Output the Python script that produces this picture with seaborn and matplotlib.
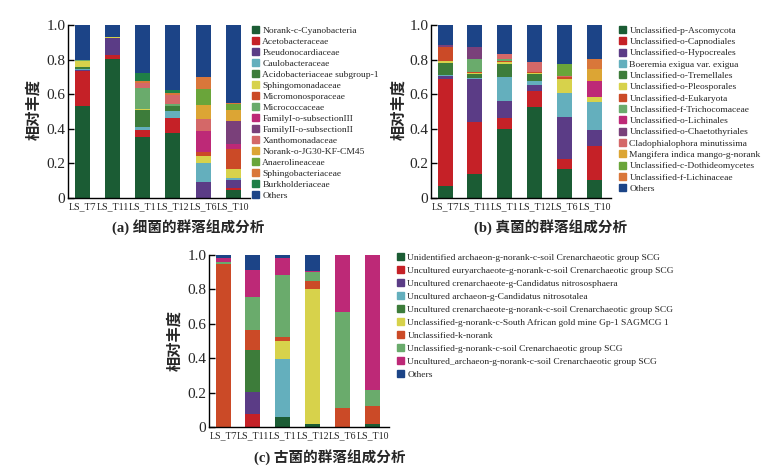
import numpy as np
import pandas as pd
import matplotlib
matplotlib.use("Agg")
import matplotlib.pyplot as plt
import matplotlib.patches as mpatches
import seaborn as sns

sns.set_style("ticks")
plt.rcParams['font.family'] = ['Liberation Serif', 'Noto Sans CJK SC']

samples = ["LS_T7", "LS_T11", "LS_T1", "LS_T12", "LS_T6", "LS_T10"]

# (a) bacteria
bac_names = ["Norank-c-Cyanobacteria", "Acetobacteraceae", "Pseudonocardiaceae",
             "Caulobacteraceae", "Acidobacteriaceae subgroup-1", "Sphingomonadaceae",
             "Micromonosporaceae", "Micrococcaceae", "FamilyI-o-subsectionIII",
             "FamilyII-o-subsectionII", "Xanthomonadaceae", "Norank-o-JG30-KF-CM45",
             "Anaerolineaceae", "Sphingobacteriaceae", "Burkholderiaceae", "Others"]
bac_vals = [
    [0.534, 0.803, 0.351, 0.374, 0.000, 0.046],
    [0.200, 0.023, 0.042, 0.090, 0.000, 0.013],
    [0.004, 0.100, 0.000, 0.000, 0.091, 0.046],
    [0.008, 0.000, 0.017, 0.037, 0.114, 0.013],
    [0.010, 0.000, 0.096, 0.031, 0.000, 0.000],
    [0.038, 0.006, 0.008, 0.000, 0.035, 0.050],
    [0.000, 0.000, 0.000, 0.000, 0.025, 0.118],
    [0.005, 0.000, 0.121, 0.013, 0.000, 0.000],
    [0.000, 0.000, 0.000, 0.000, 0.123, 0.029],
    [0.000, 0.000, 0.000, 0.000, 0.000, 0.129],
    [0.000, 0.000, 0.027, 0.048, 0.069, 0.000],
    [0.000, 0.000, 0.000, 0.000, 0.079, 0.064],
    [0.000, 0.000, 0.000, 0.000, 0.092, 0.033],
    [0.000, 0.000, 0.012, 0.015, 0.069, 0.006],
    [0.000, 0.000, 0.050, 0.015, 0.000, 0.000],
    [0.201, 0.068, 0.276, 0.377, 0.303, 0.453],
]

# (b) fungi
fun_names = ["Unclassified-p-Ascomycota", "Unclassified-o-Capnodiales",
             "Unclassified-o-Hypocreales", "Boeremia exigua var. exigua",
             "Unclassified-o-Tremellales", "Unclassified-o-Pleosporales",
             "Unclassified-d-Eukaryota", "Unclassified-f-Trichocomaceae",
             "Unclassified-o-Lichinales", "Unclassified-o-Chaetothyriales",
             "Cladophialophora minutissima", "Mangifera indica mango-g-norank",
             "Unclassified-c-Dothideomycetes", "Unclassified-f-Lichinaceae", "Others"]
fun_vals = [
    [0.070, 0.141, 0.400, 0.524, 0.168, 0.104],
    [0.620, 0.300, 0.064, 0.092, 0.058, 0.197],
    [0.017, 0.247, 0.096, 0.039, 0.241, 0.091],
    [0.005, 0.006, 0.141, 0.021, 0.139, 0.162],
    [0.070, 0.025, 0.071, 0.039, 0.000, 0.000],
    [0.008, 0.006, 0.015, 0.010, 0.081, 0.029],
    [0.085, 0.006, 0.006, 0.006, 0.012, 0.000],
    [0.000, 0.071, 0.008, 0.000, 0.000, 0.000],
    [0.000, 0.000, 0.000, 0.000, 0.000, 0.094],
    [0.010, 0.073, 0.000, 0.000, 0.000, 0.000],
    [0.000, 0.000, 0.031, 0.058, 0.006, 0.000],
    [0.000, 0.000, 0.000, 0.000, 0.000, 0.067],
    [0.000, 0.000, 0.000, 0.000, 0.067, 0.000],
    [0.000, 0.000, 0.000, 0.000, 0.000, 0.058],
    [0.115, 0.125, 0.168, 0.211, 0.228, 0.198],
]

# (c) archaea
arc_names = ["Unidentified archaeon-g-norank-c-soil Crenarchaeotic group SCG",
             "Uncultured euryarchaeote-g-norank-c-soil Crenarchaeotic group SCG",
             "Uncultured crenarchaeote-g-Candidatus nitrososphaera",
             "Uncultured archaeon-g-Candidatus nitrosotalea",
             "Uncultured crenarchaeote-g-norank-c-soil Crenarchaeotic group SCG",
             "Unclassified-g-norank-c-South African gold mine Gp-1 SAGMCG 1",
             "Unclassified-k-norank",
             "Unclassified-g-norank-c-soil Crenarchaeotic group SCG",
             "Uncultured_archaeon-g-norank-c-soil Crenarchaeotic group SCG",
             "Others"]
arc_vals = [
    [0.000, 0.000, 0.058, 0.020, 0.000, 0.019],
    [0.000, 0.077, 0.000, 0.000, 0.000, 0.000],
    [0.000, 0.125, 0.000, 0.000, 0.000, 0.000],
    [0.000, 0.000, 0.338, 0.000, 0.000, 0.000],
    [0.000, 0.247, 0.000, 0.000, 0.000, 0.000],
    [0.000, 0.000, 0.106, 0.782, 0.000, 0.000],
    [0.950, 0.116, 0.023, 0.044, 0.108, 0.106],
    [0.010, 0.193, 0.359, 0.054, 0.562, 0.091],
    [0.025, 0.154, 0.097, 0.008, 0.330, 0.784],
    [0.015, 0.088, 0.019, 0.092, 0.000, 0.000],
]

bac_colors = ["#1b5c34", "#c52127", "#5b3c86", "#64afbd", "#3d7c3a", "#d7d24b",
              "#cb4a27", "#6aab6c", "#bd2977", "#7a407a", "#d46868", "#dca534",
              "#6aa53a", "#d9773a", "#1f7f47", "#1c4487"]
fun_colors = ["#1b5c34", "#c52127", "#5b3c86", "#64afbd", "#3d7c3a", "#d7d24b",
              "#cb4a27", "#6aab6c", "#bd2977", "#7a407a", "#d46868", "#dca534",
              "#6aa53a", "#d9773a", "#1c4487"]
arc_colors = ["#1b5c34", "#c52127", "#5b3c86", "#64afbd", "#3d7c3a", "#d7d24b",
              "#cb4a27", "#6aab6c", "#bd2977", "#1c4487"]

W, H = 776, 473
fig = plt.figure(figsize=(W / 100, H / 100), dpi=100)


def panel(rect, names, vals, colors, leg_xy, leg_sp, title, title_xy, ylab_xy):
    ax = fig.add_axes([rect[0] / W, 1 - rect[3] / H, (rect[2] - rect[0]) / W, (rect[3] - rect[1]) / H])
    cum = np.cumsum(np.array(vals), axis=0)
    cum[-1] = 1.0
    for i in reversed(range(len(names))):
        df = pd.DataFrame({"sample": samples, "top": cum[i]})
        sns.barplot(data=df, x="sample", y="top", color=colors[i], saturation=1,
                    width=0.5, linewidth=0, errorbar=None, ax=ax)
    ax.set_xlim(-0.47, 5.55)
    ax.set_ylim(0, 1)
    ax.set_yticks([0, 0.2, 0.4, 0.6, 0.8, 1.0])
    ax.set_yticklabels(["0", "0.2", "0.4", "0.6", "0.8", "1.0"], fontsize=11)
    ax.set_xticks(range(6))
    ax.set_xticklabels(samples, fontsize=7.1)
    ax.tick_params(direction="in", length=4, width=1, color="black", pad=2)
    ax.tick_params(axis="x", pad=3)
    ax.set_xlabel("")
    ax.set_ylabel("")
    sns.despine(ax=ax)
    for s in ["left", "bottom"]:
        ax.spines[s].set_linewidth(1)
        ax.spines[s].set_color("black")
    handles = [mpatches.Patch(color=c, label=n) for c, n in zip(colors, names)]
    fig.legend(handles=handles, loc="upper left", bbox_to_anchor=(leg_xy[0] / W, 1 - leg_xy[1] / H),
               frameon=False, fontsize=6.8, handlelength=0.75, handleheight=0.75,
               handletextpad=0.35, labelspacing=leg_sp, borderpad=0, borderaxespad=0)
    fig.text(title_xy[0] / W, 1 - title_xy[1] / H, title, ha="center", va="center",
             fontsize=10.5, fontweight="bold")
    fig.text(ylab_xy[0] / W, 1 - ylab_xy[1] / H, "相对丰度", ha="center", va="center",
             rotation=90, fontsize=11, fontweight="bold", family=["Noto Sans CJK SC"])
    return ax


panel((68, 25, 250, 198), bac_names, bac_vals, bac_colors, (252, 26), 0.24,
      "(a) 细菌的群落组成分析", (188, 227), (33, 110))
panel((431, 25, 611, 198), fun_names, fun_vals, fun_colors, (619, 26), 0.27,
      "(b) 真菌的群落组成分析", (551, 227), (398, 110))
panel((209, 255, 389, 427), arc_names, arc_vals, arc_colors, (397, 253), 0.45,
      "(c) 古菌的群落组成分析", (330, 457), (174, 340))

fig.savefig("out.png", dpi=100)
